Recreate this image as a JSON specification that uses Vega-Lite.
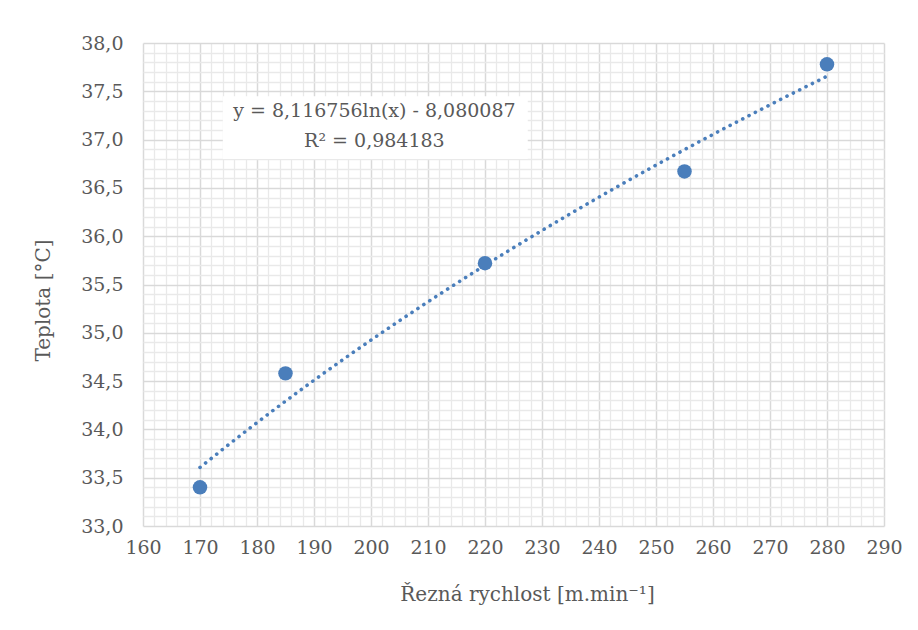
{
  "$schema": "https://vega.github.io/schema/vega-lite/v6.json",
  "width": 741,
  "height": 483,
  "autosize": "none",
  "padding": {"left": 143, "top": 43, "right": 34, "bottom": 104},
  "background": "white",
  "config": {
    "view": {"stroke": null},
    "font": "DejaVu Serif"
  },
  "datasets": {
    "meas": [
      {"speed": 170, "temp": 33.40},
      {"speed": 185, "temp": 34.58},
      {"speed": 220, "temp": 35.72},
      {"speed": 255, "temp": 36.67},
      {"speed": 280, "temp": 37.78}
    ],
    "box": [{"speed": 174, "speed2": 227.5, "temp": 36.8, "temp2": 37.45}],
    "eq": [
      {"speed": 200.6, "temp": 37.30, "label": "y = 8,116756ln(x) - 8,080087"},
      {"speed": 200.6, "temp": 36.99, "label": "R² = 0,984183"}
    ]
  },
  "encoding": {
    "x": {
      "field": "speed", "type": "quantitative",
      "scale": {"domain": [160, 290], "nice": false, "zero": false},
      "axis": {
        "title": "Řezná rychlost [m.min⁻¹]",
        "titleFont": "DejaVu Serif", "titleFontWeight": "normal", "titleColor": "#595959",
        "titleFontSize": 20, "titlePadding": 27, "titleX": 384, "titleAnchor": "middle",
        "labelFont": "DejaVu Serif", "labelColor": "#595959",
        "labelFontSize": 19, "labelPadding": 12,
        "values": [160,162,164,166,168,170,172,174,176,178,180,182,184,186,188,190,192,194,196,198,200,202,204,206,208,210,212,214,216,218,220,222,224,226,228,230,232,234,236,238,240,242,244,246,248,250,252,254,256,258,260,262,264,266,268,270,272,274,276,278,280,282,284,286,288,290],
        "labelExpr": "datum.value % 10 === 0 ? datum.label : ''",
        "labelFlush": false,
        "labelOverlap": false,
        "ticks": false, "domain": false,
        "grid": true,
        "gridColor": {"condition": {"test": "datum.value % 10 === 0", "value": "#d9d9d9"}, "value": "#e9e9e9"},
        "gridWidth": {"condition": {"test": "datum.value % 10 === 0", "value": 1.5}, "value": 1.3}
      }
    },
    "y": {
      "field": "temp", "type": "quantitative",
      "scale": {"domain": [33, 38], "nice": false, "zero": false},
      "axis": {
        "title": "Teplota [°C]",
        "titleFont": "DejaVu Serif", "titleFontWeight": "normal", "titleColor": "#595959",
        "titleFontSize": 20, "titlePadding": 27, "titleY": 257, "titleAnchor": "middle",
        "labelFont": "DejaVu Serif", "labelColor": "#595959",
        "labelFontSize": 19, "labelPadding": 20,
        "values": [33,33.1,33.2,33.3,33.4,33.5,33.6,33.7,33.8,33.9,34,34.1,34.2,34.3,34.4,34.5,34.6,34.7,34.8,34.9,35,35.1,35.2,35.3,35.4,35.5,35.6,35.7,35.8,35.9,36,36.1,36.2,36.3,36.4,36.5,36.6,36.7,36.8,36.9,37,37.1,37.2,37.3,37.4,37.5,37.6,37.7,37.8,37.9,38],
        "labelExpr": "abs(datum.value*2 - round(datum.value*2)) < 0.001 ? replace(format(datum.value, '.1f'), '.', ',') : ''",
        "labelFlush": false,
        "labelOverlap": false,
        "ticks": false, "domain": false,
        "grid": true,
        "gridColor": {"condition": {"test": "abs(datum.value*2 - round(datum.value*2)) < 0.001", "value": "#d9d9d9"}, "value": "#e9e9e9"},
        "gridWidth": {"condition": {"test": "abs(datum.value*2 - round(datum.value*2)) < 0.001", "value": 1.5}, "value": 1.3}
      }
    }
  },
  "layer": [
    {
      "data": {"name": "meas"},
      "transform": [{"regression": "temp", "on": "speed", "method": "log"}],
      "mark": {"type": "line", "color": "#4a7ebb", "strokeWidth": 3.6, "strokeDash": [0.1, 7], "strokeCap": "round"}
    },
    {
      "data": {"name": "box"},
      "mark": {"type": "rect", "fill": "white"},
      "encoding": {
        "x2": {"field": "speed2"},
        "y2": {"field": "temp2"}
      }
    },
    {
      "data": {"name": "eq"},
      "mark": {"type": "text", "font": "DejaVu Serif", "fontSize": 19, "color": "#595959", "align": "center", "baseline": "middle"},
      "encoding": {
        "text": {"field": "label"}
      }
    },
    {
      "data": {"name": "meas"},
      "mark": {"type": "circle", "color": "#4a7ebb", "opacity": 1, "size": 210}
    }
  ]
}
